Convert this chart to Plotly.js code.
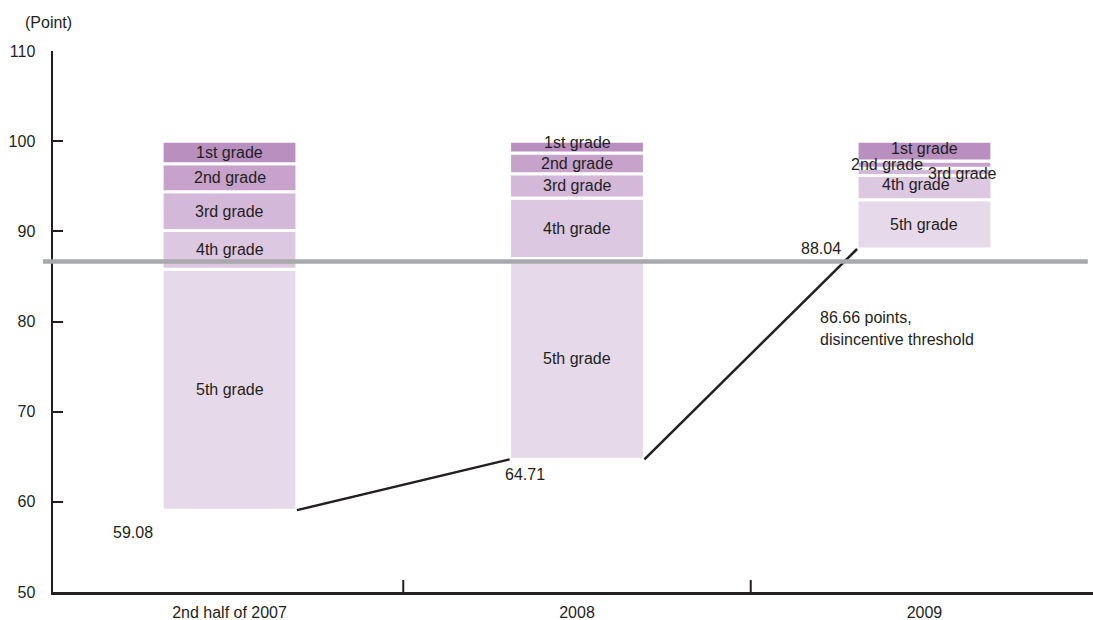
<!DOCTYPE html>
<html>
<head>
<meta charset="utf-8">
<script src="https://cdn.plot.ly/plotly-3.0.1.min.js"></script>
<style>
  html, body { margin: 0; padding: 0; background: #ffffff; }
  #chart { width: 1093px; height: 620px; }
</style>
</head>
<body>
<div id="chart"></div>
<script>
// Periods on the horizontal axis
const categories = ['2nd half of 2007', '2008', '2009'];
// Lowest score of each period (bottom of each column)
const lowestScore = [59.08, 64.71, 88.04];
// Height of each grade band, stacked upward from the lowest score to 100
const grade5 = [26.72, 22.29, 5.46];
const grade4 = [4.3, 6.7, 2.7];
const grade3 = [4.3, 2.7, 0.8];
const grade2 = [3.1, 2.3, 0.8];
const grade1 = [2.5, 1.3, 2.2];
const gradeNames = ['5th grade', '4th grade', '3rd grade', '2nd grade', '1st grade'];
// Disincentive threshold
const threshold = 86.66;
const thresholdText = ['86.66 points,', 'disincentive threshold'];
// Y axis ticks
const yTicks = [50, 60, 70, 80, 90, 100, 110];

const FONT = 'Liberation Sans, Arial, sans-serif';
const FS = 16;
const INK = '#231f20';
const gradeColors = ['#e6daea', '#dcc8e0', '#d4b8d9', '#c7a3cc', '#b98fc0'];
const BAR_W = 0.388;
const xIdx = categories.map((_, i) => i);

const bands = [grade5, grade4, grade3, grade2, grade1];

// One overlay trace per grade, each with explicit bases
const traces = [];
const labelAnns = [];
// Nudges [dx, dy] for labels that crowd together; key = "category-grade"
const labelShift = {
  '1-4': [0, 5],
  '2-4': [0, 3],
  '2-3': [-37, 0],
  '2-2': [38, -2],
  '2-1': [-8, 3]
};

const running = lowestScore.slice();
bands.forEach((band, g) => {
  const base = running.slice();
  traces.push({
    type: 'bar',
    x: xIdx,
    y: band,
    base: base,
    width: BAR_W,
    marker: { color: gradeColors[g], line: { color: '#ffffff', width: 3 } },
    hoverinfo: 'skip',
    showlegend: false
  });
  band.forEach((h, i) => {
    const s = labelShift[i + '-' + g] || [0, 0];
    labelAnns.push({
      x: i, y: base[i] + h / 2, xref: 'x', yref: 'y',
      text: gradeNames[g], showarrow: false,
      xanchor: 'center', yanchor: 'middle',
      xshift: s[0], yshift: s[1],
      font: { family: FONT, size: FS, color: INK }
    });
    running[i] = base[i] + h;
  });
});

// Line joining the lowest scores, from each column's right edge to the next column's left edge
const lx = [], ly = [];
for (let i = 0; i < lowestScore.length - 1; i++) {
  if (i > 0) { lx.push(null); ly.push(null); }
  lx.push(i + BAR_W / 2, i + 1 - BAR_W / 2);
  ly.push(lowestScore[i], lowestScore[i + 1]);
}
traces.push({
  type: 'scatter', mode: 'lines', x: lx, y: ly,
  line: { color: INK, width: 2.5 },
  connectgaps: false, hoverinfo: 'skip', showlegend: false
});

// Value labels for the lowest scores
const valueAnns = [
  { x: 0 - BAR_W / 2, y: lowestScore[0], xanchor: 'right', yanchor: 'top', xshift: -7, yshift: -12 },
  { x: 1 - BAR_W / 2, y: lowestScore[1], xanchor: 'left', yanchor: 'top', xshift: -7, yshift: -5 },
  { x: 2 - BAR_W / 2, y: lowestScore[2], xanchor: 'right', yanchor: 'middle', xshift: -14, yshift: 1 }
].map((a, i) => Object.assign(a, {
  xref: 'x', yref: 'y', showarrow: false,
  text: lowestScore[i].toFixed(2),
  font: { family: FONT, size: FS, color: INK }
}));

// Threshold label, two lines
const thrAnns = thresholdText.map((t, k) => ({
  x: 2 - BAR_W / 2, y: threshold, xref: 'x', yref: 'y',
  xanchor: 'left', yanchor: 'middle', xshift: -39, yshift: -56 - 22 * k,
  text: t, showarrow: false,
  font: { family: FONT, size: FS, color: INK }
}));

const unitAnn = {
  x: -0.0044, y: 1 + 28.5 / 541, xref: 'paper', yref: 'paper',
  xanchor: 'center', yanchor: 'middle', text: '(Point)', showarrow: false,
  font: { family: FONT, size: FS, color: INK }
};

const shapes = [
  // disincentive threshold
  { type: 'line', xref: 'paper', yref: 'y', x0: -10 / 1040, x1: 0.995, y0: threshold, y1: threshold,
    line: { color: '#a7a9ac', width: 4.5 }, layer: 'above' }
];
// dividers between periods on the horizontal axis
for (let i = 0; i < categories.length - 1; i++) {
  shapes.push({ type: 'line', xref: 'x', yref: 'paper', x0: i + 0.5, x1: i + 0.5, y0: 0, y1: 12 / 541,
    line: { color: INK, width: 2 }, layer: 'above' });
}

const layout = {
  width: 1093, height: 620, autosize: false,
  margin: { l: 53, r: 0, t: 51, b: 28, pad: 0 },
  paper_bgcolor: '#ffffff', plot_bgcolor: '#ffffff',
  barmode: 'overlay',
  showlegend: false,
  hovermode: false,
  font: { family: FONT, size: FS, color: INK },
  xaxis: {
    range: [-0.508, 2.485],
    tickvals: xIdx, ticktext: categories,
    ticks: '', showgrid: false, zeroline: false,
    showline: true, linecolor: INK, linewidth: 2.5,
    ticklabelstandoff: 4,
    tickfont: { family: FONT, size: FS, color: INK },
    fixedrange: true
  },
  yaxis: {
    range: [50, 110],
    tickvals: yTicks,
    ticks: 'inside', ticklen: 10, tickwidth: 2, tickcolor: INK,
    showgrid: false, zeroline: false,
    showline: true, linecolor: INK, linewidth: 2.5,
    ticklabelstandoff: 12,
    tickfont: { family: FONT, size: FS, color: INK },
    fixedrange: true
  },
  shapes: shapes,
  annotations: labelAnns.concat(valueAnns, thrAnns, [unitAnn])
};

Plotly.newPlot('chart', traces, layout, { displayModeBar: false, staticPlot: true });
</script>
</body>
</html>
